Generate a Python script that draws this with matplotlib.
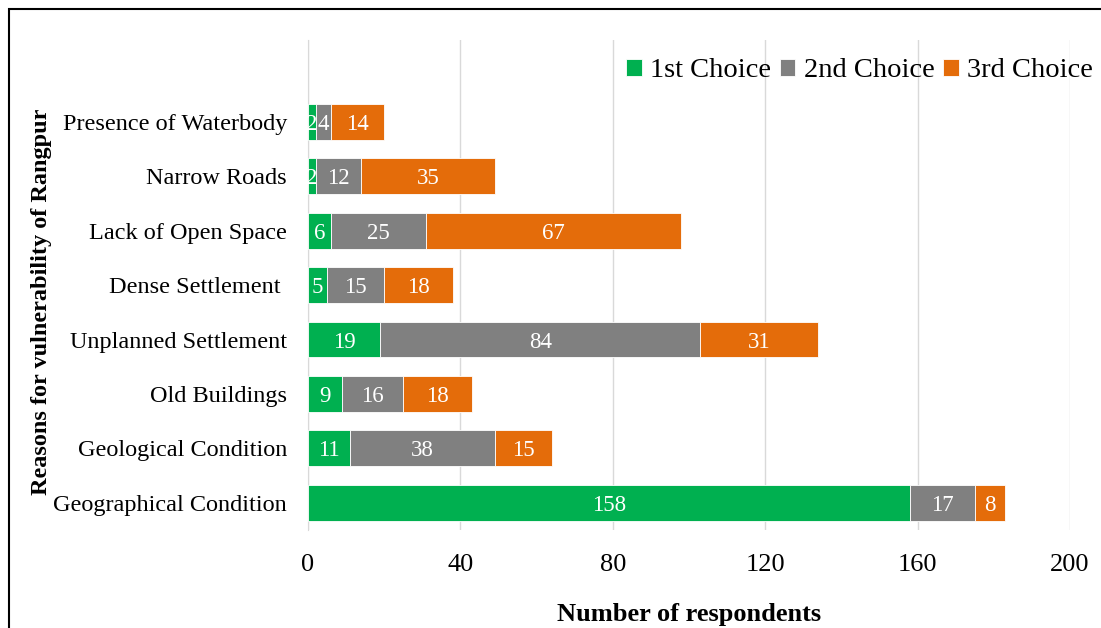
import matplotlib
matplotlib.use('Agg')
import numpy as np
import matplotlib.pyplot as plt
from matplotlib.patches import Rectangle

# data, bottom to top
reasons = ['Geographical Condition', 'Geological Condition', 'Old Buildings',
           'Unplanned Settlement', 'Dense Settlement ', 'Lack of Open Space',
           'Narrow Roads', 'Presence of Waterbody']
first = [158, 11, 9, 19, 5, 6, 2, 2]
second = [17, 38, 16, 84, 15, 25, 12, 4]
third = [8, 15, 18, 31, 18, 67, 35, 14]
series = ['1st Choice', '2nd Choice', '3rd Choice']
colors = ['#00B050', '#808080', '#E46C0A']

plt.rcParams['font.family'] = ['Liberation Serif', 'DejaVu Serif']

fig = plt.figure(figsize=(11.01, 6.28), dpi=100)
ax = fig.add_axes([0.2797, 0.156, 0.6921, 0.780])

y = np.arange(len(reasons))
left = np.zeros(len(reasons))
for vals, name, c in zip([first, second, third], series, colors):
    bars = ax.barh(y, vals, 0.66, left=left, color=c, label=name,
                   edgecolor='white', linewidth=0.6, zorder=3)
    for b, v in zip(bars, vals):
        ax.text(b.get_x() + b.get_width() / 2, b.get_y() + b.get_height() / 2,
                str(v), ha='center', va='center_baseline', color='white',
                fontsize=16.5, zorder=4)
    left += np.array(vals)

ax.set_xlim(0, 200)
ax.set_ylim(-0.5, 8.5)
ax.set_xticks(range(0, 201, 40))
ax.set_yticks(y)
ax.set_yticklabels(reasons, fontsize=17.5)
ax.tick_params(axis='x', labelsize=19, length=0, pad=17)
ax.tick_params(axis='y', length=0, pad=15)
ax.grid(axis='x', color='#D9D9D9', linewidth=1, zorder=0)
for s in ['top', 'right', 'bottom']:
    ax.spines[s].set_visible(False)
ax.spines['left'].set_color('#D9D9D9')

ax.set_xlabel('Number of respondents', fontsize=19, fontweight='bold', labelpad=20)
fig.text(0.038, 0.519, 'Reasons for vulnerability of Rangpur', rotation=90,
         ha='center', va='center', fontsize=17.5, fontweight='bold')

fig.legend(loc='center right', bbox_to_anchor=(0.993, 0.887), ncol=3, fontsize=20.5,
           frameon=False, handlelength=0.55, handleheight=0.55, handletextpad=0.3,
           columnspacing=0.3, borderaxespad=0, borderpad=0)

fig.patches.append(Rectangle((9 / 1101, -0.1), 1.2, 1.1 - 9 / 628, transform=fig.transFigure,
                             fill=False, edgecolor='black', linewidth=1.5))

fig.savefig('out.png', dpi=100)
